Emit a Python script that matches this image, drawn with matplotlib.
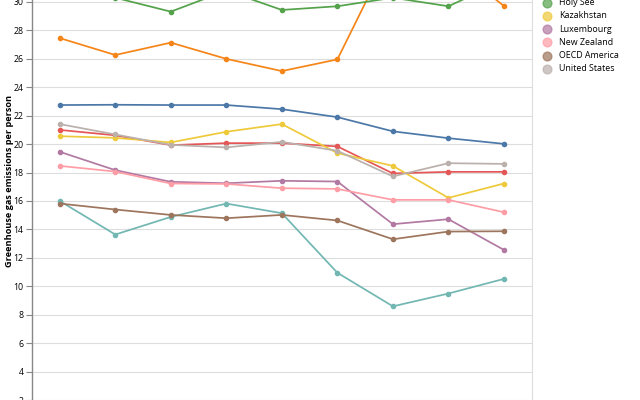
import matplotlib
matplotlib.use("Agg")
import matplotlib.pyplot as plt
from matplotlib.lines import Line2D

plt.rcParams['font.family'] = ['Open Sans', 'DejaVu Sans']

years = ['2010', '2011', '2012', '2013', '2014', '2015', '2016', '2017', '2018']

countries = ['Australia', 'Bahrain', 'Canada', 'Estonia', 'Holy See', 'Kazakhstan',
             'Luxembourg', 'New Zealand', 'OECD America', 'United States']
colors = ['#4c78a8', '#f58518', '#e45756', '#72b7b2', '#54a24b', '#eeca3b',
          '#b279a2', '#ff9da6', '#9d755d', '#bab0ac']

australia = [22.75, 22.77, 22.75, 22.75, 22.46, 21.9, 20.9, 20.42, 20.02]
bahrain = [27.46, 26.27, 27.14, 26.0, 25.14, 25.96, 33.85, 32.8, 29.72]
canada = [21.0, 20.62, 19.93, 20.07, 20.07, 19.84, 17.94, 18.05, 18.05]
estonia = [16.0, 13.64, 14.88, 15.82, 15.14, 10.95, 8.59, 9.49, 10.52]
holy_see = [31.0, 30.3, 29.32, 30.8, 29.44, 29.7, 30.3, 29.7, 31.5]
kazakhstan = [20.56, 20.44, 20.12, 20.87, 21.41, 19.37, 18.47, 16.22, 17.23]
luxembourg = [19.46, 18.17, 17.35, 17.25, 17.42, 17.37, 14.37, 14.72, 12.56]
new_zealand = [18.47, 18.07, 17.23, 17.2, 16.9, 16.85, 16.08, 16.08, 15.21]
oecd_america = [15.82, 15.4, 15.02, 14.79, 15.02, 14.63, 13.31, 13.85, 13.87]
united_states = [21.41, 20.68, 19.95, 19.77, 20.16, 19.53, 17.73, 18.66, 18.61]

series = [australia, bahrain, canada, estonia, holy_see, kazakhstan,
          luxembourg, new_zealand, oecd_america, united_states]

fig = plt.figure(figsize=(6.4, 4), dpi=100)
ax = fig.add_axes([32/640, 0, 499.7/640, 1])

x = list(range(len(years)))
for name, vals, c in zip(countries, series, colors):
    ax.plot(x, vals, color=c, lw=1.25, marker='o', ms=3,
            mfc=c, mec=c, solid_joinstyle='round', zorder=3)

ax.set_xlim(-0.5, len(years) - 0.5)
ax.set_ylim(2.14, 30.14)
ax.set_yticks(range(2, 31, 2))
ax.set_xticks(x)
ax.tick_params(axis='x', bottom=False, labelbottom=False)
ax.grid(axis='y', color='#dddddd', lw=0.8, zorder=0)
ax.set_axisbelow(True)
for s in ['top', 'bottom']:
    ax.spines[s].set_visible(False)
ax.spines['right'].set_color('#dddddd')
ax.spines['right'].set_linewidth(0.8)
ax.spines['left'].set_color('#888888')
ax.spines['left'].set_linewidth(1)
ax.tick_params(axis='y', length=4, width=0.8, color='#888888', pad=2,
               labelsize=6.3, labelcolor='#000000')

fig.text(9.5/640, 1 - 181/400, 'Greenhouse gas emissions per person',
         rotation=90, ha='center', va='center', fontsize=6.6, fontweight='bold')

# legend
row_h = 13.2
y0 = 2.7
for i, (name, c) in enumerate(zip(countries, colors)):
    yy = y0 + (i - 4) * row_h
    fy = 1 - yy / 400
    fig.add_artist(Line2D([546.7/640], [fy], marker='o', ms=6.3, mfc=c,
                          mec=c, alpha=0.7, ls='none', transform=fig.transFigure))
    fig.text(559/640, fy, name, ha='left', va='center', fontsize=6.4, color='#000000')

fig.savefig('out.png', dpi=100)
